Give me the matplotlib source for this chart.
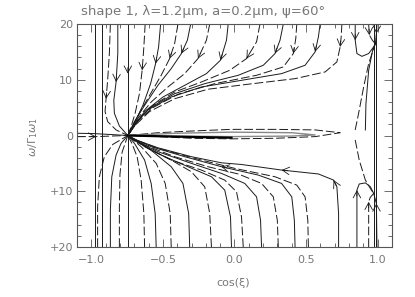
import numpy as np
import matplotlib
matplotlib.use("Agg")
import matplotlib.pyplot as plt

# ---------------- data (cos(xi), omega) ----------------
# trajectories from the top that bend left into the node
upper_fan_x = [
    [-0.624, -0.633, -0.645, -0.664, -0.694, -0.722, -0.745],
    [-0.516, -0.530, -0.551, -0.586, -0.640, -0.694, -0.745],
    [-0.395, -0.418, -0.453, -0.512, -0.593, -0.664, -0.745],
    [-0.306, -0.329, -0.371, -0.442, -0.535, -0.628, -0.699, -0.745],
    [-0.173, -0.196, -0.255, -0.348, -0.465, -0.582, -0.675, -0.745],
    [-0.044, -0.056, -0.098, -0.196, -0.348, -0.500, -0.628, -0.745],
    [0.178, 0.154, 0.084, -0.033, -0.231, -0.418, -0.570, -0.675, -0.745],
    [0.341, 0.318, 0.283, 0.201, 0.026, -0.208, -0.418, -0.582, -0.687, -0.745],
    [0.435, 0.428, 0.411, 0.341, 0.154, -0.138, -0.395, -0.570, -0.687, -0.745],
    [0.598, 0.586, 0.563, 0.493, 0.329, 0.049, -0.231, -0.442, -0.605, -0.699, -0.745],
    [0.750, 0.745, 0.738, 0.715, 0.633, 0.423, 0.096, -0.185, -0.418, -0.593, -0.699, -0.745],
]
upper_fan_y = [
    [20, 15.9, 11.7, 7.5, 4.0, 1.6, 0],
    [20, 15.9, 12.9, 9.3, 5.4, 2.5, 0],
    [20, 16.5, 13.8, 10.8, 7.2, 4.0, 0],
    [20, 17.1, 14.7, 12.0, 9.0, 5.4, 2.5, 0],
    [20, 17.1, 13.8, 11.1, 8.7, 6.0, 3.1, 0],
    [20, 17.1, 13.5, 11.1, 9.0, 6.9, 4.3, 0],
    [20, 16.8, 13.8, 11.7, 9.6, 7.8, 5.4, 2.8, 0],
    [20, 17.1, 14.7, 12.6, 10.8, 9.3, 7.5, 5.1, 2.5, 0],
    [20, 17.4, 14.7, 12.3, 10.8, 9.3, 7.4, 5.0, 2.3, 0],
    [20, 17.7, 15.0, 12.6, 11.1, 9.9, 8.7, 6.9, 4.6, 1.9, 0],
    [20, 17.7, 15.9, 13.2, 11.4, 10.2, 9.2, 8.3, 6.6, 4.3, 1.7, 0],
]
upper_fan_arrow = [2, 2, 2, 2, 2, 2, 2, 2, 2, 2, 2]

# trajectories entering the node from the left
upper_left_x = [
    [-0.867, -0.874, -0.886, -0.897, -0.904, -0.886, -0.827, -0.745],
    [-0.815, -0.815, -0.827, -0.843, -0.839, -0.804, -0.745],
    [-1.10, -0.967, -0.862, -0.745],
    [-1.10, -0.990, -0.880, -0.745],
]
upper_left_y = [
    [20, 14.7, 9.9, 6.6, 4.3, 2.5, 1.0, 0],
    [20, 14.7, 9.6, 6.3, 4.0, 1.7, 0],
    [-0.2, -0.2, -0.1, 0],
    [0.4, 0.35, 0.2, 0],
]
upper_left_arrow = [3, 2, 1, None]

lower_left_x = [
    [-0.956, -0.956, -0.944, -0.909, -0.850, -0.745],
    [-0.867, -0.867, -0.857, -0.827, -0.792, -0.745],
    [-0.804, -0.804, -0.800, -0.785, -0.745],
]
lower_left_y = [
    [-20, -12.8, -7.4, -3.8, -1.6, 0],
    [-20, -13.4, -7.4, -3.5, -1.4, 0],
    [-20, -13.0, -7.0, -3.0, 0],
]

# trajectories from the bottom that bend left into the node
lower_fan_x = [
    [-0.628, -0.633, -0.652, -0.680, -0.717, -0.745],
    [-0.547, -0.554, -0.582, -0.628, -0.699, -0.745],
    [-0.442, -0.449, -0.484, -0.547, -0.652, -0.745],
    [-0.313, -0.320, -0.360, -0.442, -0.570, -0.687, -0.745],
    [-0.161, -0.173, -0.208, -0.301, -0.442, -0.605, -0.710, -0.745],
    [-0.021, -0.028, -0.068, -0.161, -0.325, -0.512, -0.664, -0.745],
    [0.061, 0.049, 0.014, -0.068, -0.231, -0.442, -0.628, -0.745],
    [0.189, 0.182, 0.154, 0.072, -0.091, -0.301, -0.535, -0.687, -0.745],
    [0.306, 0.299, 0.271, 0.189, 0.026, -0.185, -0.418, -0.628, -0.745],
    [0.423, 0.418, 0.400, 0.329, 0.166, -0.091, -0.348, -0.582, -0.710, -0.745],
    [0.516, 0.512, 0.493, 0.435, 0.283, 0.002, -0.278, -0.535, -0.699, -0.745],
    [0.727, 0.727, 0.715, 0.692, 0.586, 0.329, 0.049, -0.091, -0.301, -0.535, -0.699, -0.745],
]
lower_fan_y = [
    [-20, -14.0, -8.0, -3.8, -1.4, 0],
    [-20, -14.0, -8.6, -4.4, -1.4, 0],
    [-20, -14.0, -8.6, -5.0, -2.0, 0],
    [-20, -14.0, -8.6, -5.6, -2.9, -0.8, 0],
    [-20, -14.0, -9.2, -6.5, -4.4, -2.3, -0.7, 0],
    [-20, -14.6, -9.8, -7.4, -5.6, -3.5, -1.4, 0],
    [-20, -14.6, -10.1, -8.0, -6.2, -4.4, -2.0, 0],
    [-20, -15.2, -11.0, -8.6, -6.8, -5.0, -2.9, -1.0, 0],
    [-20, -15.2, -11.0, -8.6, -6.9, -5.6, -3.8, -1.7, 0],
    [-20, -15.2, -11.0, -8.6, -7.1, -5.6, -3.8, -2.0, -0.5, 0],
    [-20, -15.2, -11.0, -8.9, -7.4, -5.9, -4.1, -2.3, -0.7, 0],
    [-20, -14.0, -9.2, -8.0, -6.9, -6.2, -5.2, -4.9, -3.8, -2.2, -0.7, 0],
]
lower_fan_arrows = [(9, 5), (11, 3), (11, 5)]

# trajectories near cos(xi)=1 feeding the two sinks
right_x = [
    [0.843, 0.843, 0.855, 0.890, 0.937, 0.972, 0.984],
    [0.937, 0.942, 0.965, 0.984],
    [0.995, 0.991, 0.984],
    [0.843, 0.867, 0.902, 0.937, 0.972, 0.984],
    [0.914, 0.918, 0.937, 0.965, 0.984],
    [0.843, 0.871, 0.914, 0.949, 0.972],
    [0.855, 0.855, 0.871, 0.914, 0.949, 0.972],
    [0.937, 0.937, 0.948, 0.972],
    [0.995, 0.991, 0.972],
]
right_y = [
    [20, 17.1, 14.7, 14.2, 14.7, 15.9, 16.5],
    [20, 18.0, 17.0, 16.5],
    [20, 18.3, 16.5],
    [1.0, 4.0, 8.7, 12.9, 15.6, 16.5],
    [1.0, 5.7, 11.7, 15.3, 16.5],
    [-0.8, -4.4, -8.0, -9.5, -10.4],
    [-20, -9.8, -8.7, -8.5, -9.2, -10.4],
    [-20, -11.9, -11.1, -10.4],
    [-20, -12.2, -10.4],
]
right_arrow = [1, 1, 1, None, None, None, 1, 1, 1]

# elongated loop along omega = 0
loop_x = [
    [-0.745, -0.535, -0.301, -0.021, 0.283, 0.563, 0.738, 0.563, 0.283, -0.021, -0.301, -0.535, -0.745],
    [-0.745, -0.418, -0.021, 0.400, 0.563, 0.400, -0.021, -0.418, -0.745],
]
loop_y = [
    [0, 0.5, 0.8, 1.1, 1.1, 1.0, 0.5, -0.2, -0.5, -0.6, -0.5, -0.2, 0],
    [0, 0.4, 0.6, 0.5, 0.1, -0.1, -0.2, -0.1, 0],
]
thick_x = [-0.745, -0.418, -0.021]
thick_y = [0, -0.2, -0.4]

vertical_x = [-0.974, -0.928, 0.972, 0.991]
node_line_x = [-0.745, -0.745, -0.745]
node_line_y = [20, 11.1, -20]

x_ticks = [-1.0, -0.5, 0.0, 0.5, 1.0]
x_tick_labels = ["\u22121.0", "\u22120.5", "0.0", "0.5", "1.0"]
y_ticks = [-20, -10, 0, 10, 20]
y_tick_labels = ["+20", "+10", "0", "10", "20"]

# ---------------- figure ----------------
W, H = 415, 297
fig = plt.figure(figsize=(W / 100, H / 100), dpi=100)
ax = fig.add_axes([77 / W, 1 - 247 / H, (392 - 77) / W, (247 - 24) / H])
ax.set_xlim(-1.1, 1.1)
ax.set_ylim(-20, 20)

LC = "#1a1a1a"
LW = 0.7
DASH = (0, (9, 3))


def style(i):
    return "-" if i % 2 == 0 else DASH


def add_arrow(xs, ys, i):
    p1 = ax.transData.transform((xs[i - 1], ys[i - 1]))
    p2 = ax.transData.transform((xs[i], ys[i]))
    d = p2 - p1
    d = d / np.hypot(d[0], d[1])
    ax.annotate("", xy=(xs[i], ys[i]), xycoords="data",
                xytext=(-d[0] * 6, -d[1] * 6), textcoords="offset pixels",
                arrowprops=dict(arrowstyle="->,head_length=0.55,head_width=0.3",
                                lw=0.6, color=LC, shrinkA=0, shrinkB=0,
                                mutation_scale=9))


for i, (xs, ys) in enumerate(zip(upper_fan_x, upper_fan_y)):
    ax.plot(xs, ys, color=LC, lw=LW, ls=style(i + 1))
    add_arrow(xs, ys, upper_fan_arrow[i])

for i, (xs, ys) in enumerate(zip(upper_left_x, upper_left_y)):
    ax.plot(xs, ys, color=LC, lw=LW, ls=style(i + 1))
    if upper_left_arrow[i] is not None:
        add_arrow(xs, ys, upper_left_arrow[i])

for i, (xs, ys) in enumerate(zip(lower_left_x, lower_left_y)):
    ax.plot(xs, ys, color=LC, lw=LW, ls=style(i + 1))

for i, (xs, ys) in enumerate(zip(lower_fan_x, lower_fan_y)):
    ax.plot(xs, ys, color=LC, lw=LW, ls=style(i + 1))
for ci, k in lower_fan_arrows:
    add_arrow(lower_fan_x[ci], lower_fan_y[ci], k)

for i, (xs, ys) in enumerate(zip(right_x, right_y)):
    ax.plot(xs, ys, color=LC, lw=LW, ls=style(i))
    if right_arrow[i] is not None:
        add_arrow(xs, ys, right_arrow[i])

ax.plot(loop_x[0], loop_y[0], color=LC, lw=LW, ls=DASH)
ax.plot(loop_x[1], loop_y[1], color="#888888", lw=1.0)
ax.plot(thick_x, thick_y, color="black", lw=1.6)

for vx in vertical_x:
    ax.plot([vx, vx], [-20, 20], color=LC, lw=LW)
ax.plot(node_line_x, node_line_y, color=LC, lw=LW)
add_arrow(node_line_x, node_line_y, 1)

# ---------------- axes styling ----------------
FRAME = "#555555"
TXT = "#777777"
for s in ax.spines.values():
    s.set_color(FRAME)
    s.set_linewidth(0.8)
ax.set_xticks(x_ticks)
ax.set_xticklabels(x_tick_labels)
ax.set_yticks(y_ticks)
ax.set_yticklabels(y_tick_labels)
ax.set_xticks(np.arange(-1.1, 1.1001, 0.1), minor=True)
ax.set_yticks(np.arange(-20, 20.001, 2), minor=True)
ax.tick_params(which="both", direction="in", top=True, right=True,
               colors=FRAME, labelcolor=TXT, width=0.6)
ax.tick_params(which="major", length=6, labelsize=8, pad=6)
ax.tick_params(which="minor", length=3)
ax.tick_params(axis="y", which="major", pad=3)

fig.text(203 / W, 1 - 12 / H, "shape 1, \u03bb=1.2\u03bcm, a=0.2\u03bcm, \u03c8=60\u00b0",
         ha="center", va="center", fontsize=9.5, color=TXT)
fig.text(233 / W, 1 - 283 / H, "cos(\u03be)", ha="center", va="center",
         fontsize=8, color=TXT)
fig.text(33 / W, 1 - 137 / H, r"$\omega/\Gamma_1\omega_1$", ha="center", va="center",
         rotation=90, fontsize=8, color=TXT)

fig.savefig("out.png", dpi=100)
